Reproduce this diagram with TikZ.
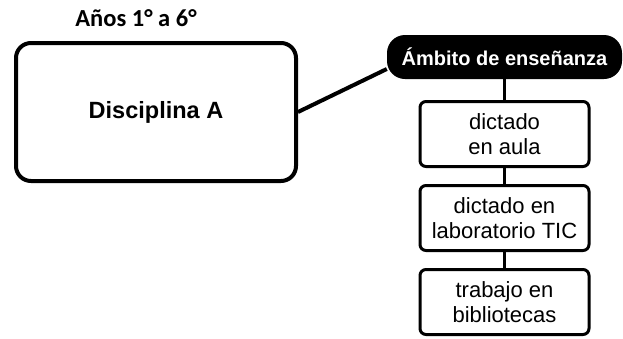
\documentclass[tikz,border=0pt]{standalone}
\usepackage{fontspec}
\setmainfont{Liberation Sans}
\newfontfamily\calibrifont{Carlito}
\usetikzlibrary{positioning}

\begin{document}
\begin{tikzpicture}[x=1pt,y=-1pt,node distance=84pt,on grid,
  disc/.style={draw,line width=4pt,rounded corners=15pt,minimum width=280pt,minimum height=138pt,font=\fontsize{23.5}{27}\selectfont\bfseries},
  ambito/.style={fill=black,text=white,rounded corners=18pt,minimum width=235pt,minimum height=44pt,inner sep=0pt,font=\fontsize{20}{24}\selectfont\bfseries},
  lugar/.style={draw,line width=3pt,rounded corners=6pt,minimum width=169pt,minimum height=65pt,align=center,inner sep=0pt,font=\fontsize{22}{25}\selectfont}]
\useasboundingbox (0,0) rectangle (623,338);
\node[disc] (dA) at (156,112) {Disciplina A};
\node[font=\calibrifont\bfseries\fontsize{24.5}{28}\selectfont] (anos) at (136,18) {Años 1° a 6°};
\node[ambito] (amb) at (504.5,57) {Ámbito de enseñanza};
\node[lugar] (aula) [below=77pt of amb] {dictado\\en aula};
\node[lugar] (tic) [below=of aula] {dictado en\\laboratorio TIC};
\node[lugar] (bib) [below=of tic] {trabajo en\\bibliotecas};

\draw[line width=4pt] (dA.east) -- ([yshift=-12pt]amb.west);
\path[draw,line width=3pt]
(amb) -- (aula)
(aula) -- (tic)
(tic) -- (bib);
\end{tikzpicture}
\end{document}
